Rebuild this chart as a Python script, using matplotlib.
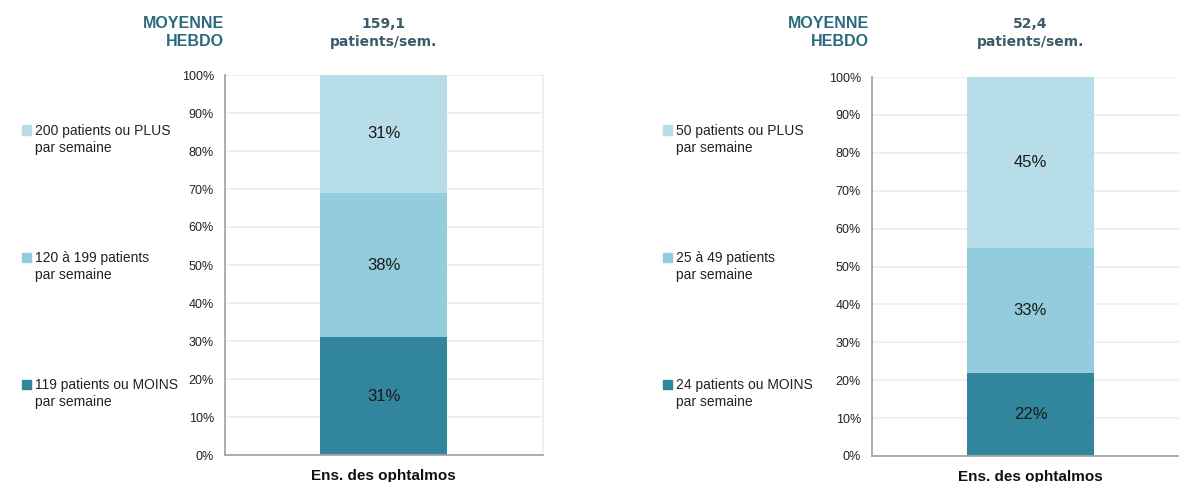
import matplotlib
matplotlib.use("Agg")
import matplotlib.pyplot as plt
from matplotlib.patches import Rectangle

plt.rcParams['font.family'] = ['Liberation Sans', 'DejaVu Sans']

# données
category = ["Ens. des ophtalmos"]
left_values = [31, 38, 31]     # bas, milieu, haut
right_values = [22, 33, 45]
left_labels = ["119 patients ou MOINS\npar semaine",
               "120 à 199 patients\npar semaine",
               "200 patients ou PLUS\npar semaine"]
right_labels = ["24 patients ou MOINS\npar semaine",
                "25 à 49 patients\npar semaine",
                "50 patients ou PLUS\npar semaine"]
left_mean = "159,1"
right_mean = "52,4"
colors = ["#31859C", "#93CDDD", "#B7DEE8"]

W, H = 1179, 482
BAR_PX = 127.0
fig = plt.figure(figsize=(W / 100, H / 100), dpi=100)


def px_axes(x0, y_top, x1, y_bot):
    return fig.add_axes([x0 / W, 1 - y_bot / H, (x1 - x0) / W, (y_bot - y_top) / H])


def draw_panel(ax, values, labels, mean, x_bar, leg_x, title_x):
    bottom = 0
    for v, c in zip(values, colors):
        ax.bar(category, [v], bottom=bottom, width=0.8, color=c, zorder=2)
        ax.text(0, bottom + v / 2, f"{v}%", ha="center", va="center",
                fontsize=12, color="#1a1a1a", zorder=3)
        bottom += v
    ax.set_ylim(0, 100)
    ax.set_yticks(range(0, 101, 10))
    ax.set_yticklabels([f"{t}%" for t in range(0, 101, 10)], fontsize=9,
                       color="#222222")
    ax.tick_params(axis="y", length=0, pad=8)
    ax.tick_params(axis="x", length=0, pad=10)
    for lab in ax.get_xticklabels():
        lab.set_fontsize(11)
        lab.set_fontweight("bold")
        lab.set_color("#111111")
    ax.grid(axis="y", color="#EDEDED", linewidth=1.2, zorder=0)
    for s in ["left", "bottom"]:
        ax.spines[s].set_color("#A6A6A6")
        ax.spines[s].set_linewidth(1.3)
    ax.spines["top"].set_visible(False)
    ax.spines["right"].set_color("#EDEDED")
    ax.spines["right"].set_linewidth(1.2)

    # légende manuelle
    for lab, c, yy in zip(labels, colors, [384, 257, 130]):
        fig.patches.append(Rectangle(((leg_x - 13) / W, 1 - (yy + 4.5) / H),
                                     9 / W, 9 / H, color=c,
                                     transform=fig.transFigure))
        fig.text(leg_x / W, 1 - (yy - 6) / H, lab, fontsize=10,
                 color="#222222", va="top", ha="left", linespacing=1.3)

    # en-têtes
    fig.text(title_x / W, 1 - 33 / H, "MOYENNE\nHEBDO", fontsize=11.5,
             fontweight="bold", color="#2A6A7C", ha="right", va="center",
             linespacing=1.25)
    fig.text(x_bar / W, 1 - 33 / H, f"{mean}\npatients/sem.", fontsize=10,
             fontweight="bold", color="#3D5A68", ha="center", va="center",
             family=["DejaVu Sans"], linespacing=1.3)


def set_xrange(ax, x0, x1, x_bar):
    unit = BAR_PX / 0.8
    ax.set_xlim(-(x_bar - x0) / unit, (x1 - x_bar) / unit)


ax1 = px_axes(225, 75, 543, 455)
set_xrange(ax1, 225, 543, 383.5)
draw_panel(ax1, left_values, left_labels, left_mean, 383.5, 35, 224)

ax2 = px_axes(872, 77, 1200, 456)
set_xrange(ax2, 872, 1200, 1030.5)
draw_panel(ax2, right_values, right_labels, right_mean, 1030.5, 676, 869)

fig.savefig("out.png", dpi=100)
